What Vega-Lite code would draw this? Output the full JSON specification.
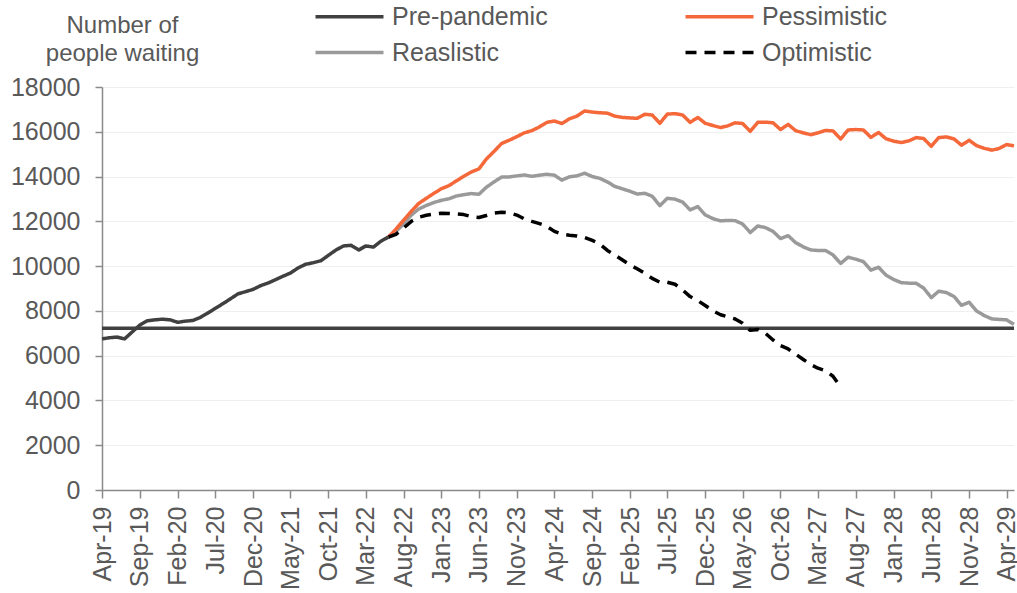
{
  "$schema": "https://vega.github.io/schema/vega-lite/v6.json",
  "width": 912,
  "height": 403,
  "autosize": {"type": "none"},
  "padding": {"left": 102, "top": 87, "right": 3, "bottom": 103},
  "background": "white",
  "config": {
    "font": "Liberation Sans",
    "view": {"stroke": null},
    "axis": {"labelFont": "Liberation Sans", "titleFont": "Liberation Sans"},
    "legend": {"labelFont": "Liberation Sans"}
  },
  "data": {"values": [
    {"m": "2019-04-01", "Historical": 6750, "Pre-pandemic": 7230},
    {"m": "2019-05-01", "Historical": 6800},
    {"m": "2019-06-01", "Historical": 6830},
    {"m": "2019-07-01", "Historical": 6750},
    {"m": "2019-08-01", "Historical": 7060},
    {"m": "2019-09-01", "Historical": 7370},
    {"m": "2019-10-01", "Historical": 7560},
    {"m": "2019-11-01", "Historical": 7600},
    {"m": "2019-12-01", "Historical": 7630},
    {"m": "2020-01-01", "Historical": 7600},
    {"m": "2020-02-01", "Historical": 7490},
    {"m": "2020-03-01", "Historical": 7540},
    {"m": "2020-04-01", "Historical": 7570},
    {"m": "2020-05-01", "Historical": 7700},
    {"m": "2020-06-01", "Historical": 7900},
    {"m": "2020-07-01", "Historical": 8110},
    {"m": "2020-08-01", "Historical": 8320},
    {"m": "2020-09-01", "Historical": 8540},
    {"m": "2020-10-01", "Historical": 8760},
    {"m": "2020-11-01", "Historical": 8860},
    {"m": "2020-12-01", "Historical": 8960},
    {"m": "2021-01-01", "Historical": 9130},
    {"m": "2021-02-01", "Historical": 9250},
    {"m": "2021-03-01", "Historical": 9390},
    {"m": "2021-04-01", "Historical": 9550},
    {"m": "2021-05-01", "Historical": 9690},
    {"m": "2021-06-01", "Historical": 9920},
    {"m": "2021-07-01", "Historical": 10080},
    {"m": "2021-08-01", "Historical": 10150},
    {"m": "2021-09-01", "Historical": 10240},
    {"m": "2021-10-01", "Historical": 10480},
    {"m": "2021-11-01", "Historical": 10720},
    {"m": "2021-12-01", "Historical": 10900},
    {"m": "2022-01-01", "Historical": 10930},
    {"m": "2022-02-01", "Historical": 10720},
    {"m": "2022-03-01", "Historical": 10900},
    {"m": "2022-04-01", "Historical": 10850},
    {"m": "2022-05-01", "Historical": 11110},
    {"m": "2022-06-01", "Historical": 11300, "Pessimistic": 11300, "Reaslistic": 11300, "Optimistic": 11300},
    {"m": "2022-07-01", "Pessimistic": 11650, "Reaslistic": 11550, "Optimistic": 11420},
    {"m": "2022-08-01", "Pessimistic": 12050, "Reaslistic": 11880, "Optimistic": 11700},
    {"m": "2022-09-01", "Pessimistic": 12450, "Reaslistic": 12280, "Optimistic": 12000},
    {"m": "2022-10-01", "Pessimistic": 12800, "Reaslistic": 12550, "Optimistic": 12180},
    {"m": "2022-11-01", "Pessimistic": 13030, "Reaslistic": 12710, "Optimistic": 12270},
    {"m": "2022-12-01", "Pessimistic": 13250, "Reaslistic": 12840, "Optimistic": 12320},
    {"m": "2023-01-01", "Pessimistic": 13460, "Reaslistic": 12940, "Optimistic": 12360},
    {"m": "2023-02-01", "Pessimistic": 13600, "Reaslistic": 13010, "Optimistic": 12350},
    {"m": "2023-03-01", "Pessimistic": 13800, "Reaslistic": 13130, "Optimistic": 12330},
    {"m": "2023-04-01", "Pessimistic": 14010, "Reaslistic": 13190, "Optimistic": 12300},
    {"m": "2023-05-01", "Pessimistic": 14200, "Reaslistic": 13240, "Optimistic": 12210},
    {"m": "2023-06-01", "Pessimistic": 14340, "Reaslistic": 13210, "Optimistic": 12170},
    {"m": "2023-07-01", "Pessimistic": 14780, "Reaslistic": 13520, "Optimistic": 12260},
    {"m": "2023-08-01", "Pessimistic": 15120, "Reaslistic": 13760, "Optimistic": 12370},
    {"m": "2023-09-01", "Pessimistic": 15480, "Reaslistic": 13980, "Optimistic": 12410},
    {"m": "2023-10-01", "Pessimistic": 15620, "Reaslistic": 13985, "Optimistic": 12380},
    {"m": "2023-11-01", "Pessimistic": 15780, "Reaslistic": 14030, "Optimistic": 12280},
    {"m": "2023-12-01", "Pessimistic": 15950, "Reaslistic": 14070, "Optimistic": 12110},
    {"m": "2024-01-01", "Pessimistic": 16050, "Reaslistic": 14010, "Optimistic": 12000},
    {"m": "2024-02-01", "Pessimistic": 16220, "Reaslistic": 14060, "Optimistic": 11900},
    {"m": "2024-03-01", "Pessimistic": 16420, "Reaslistic": 14100, "Optimistic": 11780},
    {"m": "2024-04-01", "Pessimistic": 16480, "Reaslistic": 14060, "Optimistic": 11550},
    {"m": "2024-05-01", "Pessimistic": 16370, "Reaslistic": 13840, "Optimistic": 11430},
    {"m": "2024-06-01", "Pessimistic": 16580, "Reaslistic": 13990, "Optimistic": 11380},
    {"m": "2024-07-01", "Pessimistic": 16700, "Reaslistic": 14030, "Optimistic": 11350},
    {"m": "2024-08-01", "Pessimistic": 16930, "Reaslistic": 14150, "Optimistic": 11280},
    {"m": "2024-09-01", "Pessimistic": 16880, "Reaslistic": 14000, "Optimistic": 11150},
    {"m": "2024-10-01", "Pessimistic": 16850, "Reaslistic": 13920, "Optimistic": 10990},
    {"m": "2024-11-01", "Pessimistic": 16830, "Reaslistic": 13760, "Optimistic": 10700},
    {"m": "2024-12-01", "Pessimistic": 16700, "Reaslistic": 13560, "Optimistic": 10500},
    {"m": "2025-01-01", "Pessimistic": 16640, "Reaslistic": 13450, "Optimistic": 10270},
    {"m": "2025-02-01", "Pessimistic": 16620, "Reaslistic": 13340, "Optimistic": 10050},
    {"m": "2025-03-01", "Pessimistic": 16600, "Reaslistic": 13220, "Optimistic": 9880},
    {"m": "2025-04-01", "Pessimistic": 16780, "Reaslistic": 13250, "Optimistic": 9680},
    {"m": "2025-05-01", "Pessimistic": 16750, "Reaslistic": 13120, "Optimistic": 9450},
    {"m": "2025-06-01", "Pessimistic": 16380, "Reaslistic": 12700, "Optimistic": 9280},
    {"m": "2025-07-01", "Pessimistic": 16790, "Reaslistic": 13030, "Optimistic": 9280},
    {"m": "2025-08-01", "Pessimistic": 16810, "Reaslistic": 12990, "Optimistic": 9190},
    {"m": "2025-09-01", "Pessimistic": 16750, "Reaslistic": 12860, "Optimistic": 8930},
    {"m": "2025-10-01", "Pessimistic": 16420, "Reaslistic": 12510, "Optimistic": 8640},
    {"m": "2025-11-01", "Pessimistic": 16640, "Reaslistic": 12660, "Optimistic": 8460},
    {"m": "2025-12-01", "Pessimistic": 16380, "Reaslistic": 12290, "Optimistic": 8240},
    {"m": "2026-01-01", "Pessimistic": 16280, "Reaslistic": 12120, "Optimistic": 8000},
    {"m": "2026-02-01", "Pessimistic": 16190, "Reaslistic": 12020, "Optimistic": 7830},
    {"m": "2026-03-01", "Pessimistic": 16260, "Reaslistic": 12040, "Optimistic": 7740},
    {"m": "2026-04-01", "Pessimistic": 16400, "Reaslistic": 12030, "Optimistic": 7640},
    {"m": "2026-05-01", "Pessimistic": 16370, "Reaslistic": 11880, "Optimistic": 7450},
    {"m": "2026-06-01", "Pessimistic": 16020, "Reaslistic": 11500, "Optimistic": 7130},
    {"m": "2026-07-01", "Pessimistic": 16420, "Reaslistic": 11790, "Optimistic": 7170},
    {"m": "2026-08-01", "Pessimistic": 16430, "Reaslistic": 11720, "Optimistic": 7000},
    {"m": "2026-09-01", "Pessimistic": 16400, "Reaslistic": 11550, "Optimistic": 6700},
    {"m": "2026-10-01", "Pessimistic": 16100, "Reaslistic": 11230, "Optimistic": 6450},
    {"m": "2026-11-01", "Pessimistic": 16330, "Reaslistic": 11360, "Optimistic": 6300},
    {"m": "2026-12-01", "Pessimistic": 16050, "Reaslistic": 11050, "Optimistic": 6070},
    {"m": "2027-01-01", "Pessimistic": 15950, "Reaslistic": 10860, "Optimistic": 5830},
    {"m": "2027-02-01", "Pessimistic": 15870, "Reaslistic": 10720, "Optimistic": 5600},
    {"m": "2027-03-01", "Pessimistic": 15950, "Reaslistic": 10700, "Optimistic": 5440},
    {"m": "2027-04-01", "Pessimistic": 16060, "Reaslistic": 10700, "Optimistic": 5330},
    {"m": "2027-05-01", "Pessimistic": 16040, "Reaslistic": 10500, "Optimistic": 5080},
    {"m": "2027-06-01", "Pessimistic": 15680, "Reaslistic": 10120, "Optimistic": 4600},
    {"m": "2027-07-01", "Pessimistic": 16080, "Reaslistic": 10400},
    {"m": "2027-08-01", "Pessimistic": 16100, "Reaslistic": 10310},
    {"m": "2027-09-01", "Pessimistic": 16080, "Reaslistic": 10200},
    {"m": "2027-10-01", "Pessimistic": 15750, "Reaslistic": 9820},
    {"m": "2027-11-01", "Pessimistic": 15970, "Reaslistic": 9950},
    {"m": "2027-12-01", "Pessimistic": 15690, "Reaslistic": 9600},
    {"m": "2028-01-01", "Pessimistic": 15580, "Reaslistic": 9400},
    {"m": "2028-02-01", "Pessimistic": 15520, "Reaslistic": 9260},
    {"m": "2028-03-01", "Pessimistic": 15590, "Reaslistic": 9240},
    {"m": "2028-04-01", "Pessimistic": 15740, "Reaslistic": 9230},
    {"m": "2028-05-01", "Pessimistic": 15700, "Reaslistic": 9020},
    {"m": "2028-06-01", "Pessimistic": 15350, "Reaslistic": 8590},
    {"m": "2028-07-01", "Pessimistic": 15740, "Reaslistic": 8880},
    {"m": "2028-08-01", "Pessimistic": 15770, "Reaslistic": 8820},
    {"m": "2028-09-01", "Pessimistic": 15680, "Reaslistic": 8640},
    {"m": "2028-10-01", "Pessimistic": 15400, "Reaslistic": 8250},
    {"m": "2028-11-01", "Pessimistic": 15620, "Reaslistic": 8390},
    {"m": "2028-12-01", "Pessimistic": 15380, "Reaslistic": 7990},
    {"m": "2029-01-01", "Pessimistic": 15260, "Reaslistic": 7790},
    {"m": "2029-02-01", "Pessimistic": 15180, "Reaslistic": 7640},
    {"m": "2029-03-01", "Pessimistic": 15250, "Reaslistic": 7620},
    {"m": "2029-04-01", "Pessimistic": 15430, "Reaslistic": 7600},
    {"m": "2029-05-01", "Pessimistic": 15370, "Reaslistic": 7400, "Pre-pandemic": 7230}
  ]},
  "transform": [
    {"fold": ["Reaslistic", "Pessimistic", "Optimistic", "Pre-pandemic", "Historical"], "as": ["series", "value"]},
    {"filter": "isValid(datum.value)"}
  ],
  "mark": {"type": "line", "strokeJoin": "round"},
  "encoding": {
    "x": {
      "field": "m", "type": "temporal", "timeUnit": "utcyearmonth", "title": null,
      "scale": {"domain": [{"year": 2019, "month": 4, "date": 1, "utc": true}, {"year": 2029, "month": 5, "date": 1, "utc": true}]},
      "axis": {
        "values": [
          {"year": 2019, "month": 4, "utc": true}, {"year": 2019, "month": 9, "utc": true},
          {"year": 2020, "month": 2, "utc": true}, {"year": 2020, "month": 7, "utc": true},
          {"year": 2020, "month": 12, "utc": true}, {"year": 2021, "month": 5, "utc": true},
          {"year": 2021, "month": 10, "utc": true}, {"year": 2022, "month": 3, "utc": true},
          {"year": 2022, "month": 8, "utc": true}, {"year": 2023, "month": 1, "utc": true},
          {"year": 2023, "month": 6, "utc": true}, {"year": 2023, "month": 11, "utc": true},
          {"year": 2024, "month": 4, "utc": true}, {"year": 2024, "month": 9, "utc": true},
          {"year": 2025, "month": 2, "utc": true}, {"year": 2025, "month": 7, "utc": true},
          {"year": 2025, "month": 12, "utc": true}, {"year": 2026, "month": 5, "utc": true},
          {"year": 2026, "month": 10, "utc": true}, {"year": 2027, "month": 3, "utc": true},
          {"year": 2027, "month": 8, "utc": true}, {"year": 2028, "month": 1, "utc": true},
          {"year": 2028, "month": 6, "utc": true}, {"year": 2028, "month": 11, "utc": true},
          {"year": 2029, "month": 4, "utc": true}
        ],
        "format": "%b-%y",
        "labelAngle": -90,
        "labelFontSize": 25,
        "labelColor": "#595959",
        "labelPadding": 8,
        "labelOverlap": false,
        "labelFlush": false,
        "tickSize": 8,
        "tickWidth": 1.5,
        "tickColor": "#8A8A8A",
        "domainColor": "#8A8A8A",
        "domainWidth": 1.5,
        "grid": false
      }
    },
    "y": {
      "field": "value", "type": "quantitative",
      "scale": {"domain": [0, 18000], "nice": false},
      "axis": {
        "values": [0, 2000, 4000, 6000, 8000, 10000, 12000, 14000, 16000, 18000],
        "format": "d",
        "title": ["Number of", "people waiting"],
        "titleAngle": 0,
        "titleAlign": "center",
        "titleBaseline": "alphabetic",
        "titleX": 20,
        "titleY": -55,
        "titleLineHeight": 28,
        "titleFontSize": 24,
        "titleFontWeight": "normal",
        "titleColor": "#595959",
        "labelFontSize": 25,
        "labelColor": "#595959",
        "labelPadding": 15,
        "tickSize": 7,
        "tickWidth": 1.5,
        "tickColor": "#8A8A8A",
        "domainColor": "#8A8A8A",
        "domainWidth": 1.5,
        "gridColor": "#EFEFEF",
        "gridWidth": 1.2
      }
    },
    "color": {
      "field": "series", "type": "nominal",
      "scale": {
        "domain": ["Pre-pandemic", "Reaslistic", "Pessimistic", "Optimistic", "Historical"],
        "range": ["#404040", "#9A9A9A", "#F4683A", "#000000", "#404040"]
      },
      "legend": {
        "values": ["Pre-pandemic", "Reaslistic", "Pessimistic", "Optimistic"],
        "title": null,
        "orient": "none",
        "legendX": 235,
        "legendY": -83,
        "direction": "vertical",
        "columns": 2,
        "columnPadding": 130,
        "rowPadding": 10,
        "symbolType": "M-4,0H4",
        "symbolSize": 289,
        "symbolStrokeWidth": 3.5,
        "labelFontSize": 25,
        "labelColor": "#595959",
        "labelOffset": 30,
        "labelLimit": 400
      }
    },
    "strokeDash": {
      "field": "series", "type": "nominal",
      "scale": {
        "domain": ["Pre-pandemic", "Reaslistic", "Pessimistic", "Optimistic", "Historical"],
        "range": [[1, 0], [1, 0], [1, 0], [11, 8], [1, 0]]
      },
      "legend": {
        "values": ["Pre-pandemic", "Reaslistic", "Pessimistic", "Optimistic"],
        "title": null,
        "orient": "none",
        "legendX": 235,
        "legendY": -83,
        "direction": "vertical",
        "columns": 2,
        "columnPadding": 130,
        "rowPadding": 10,
        "symbolType": "M-4,0H4",
        "symbolSize": 289,
        "symbolStrokeWidth": 3.5,
        "labelFontSize": 25,
        "labelColor": "#595959",
        "labelOffset": 30,
        "labelLimit": 400
      }
    },
    "strokeWidth": {
      "field": "series", "type": "nominal",
      "scale": {
        "domain": ["Pre-pandemic", "Reaslistic", "Pessimistic", "Optimistic", "Historical"],
        "range": [3.5, 3.5, 3.5, 3.2, 6.5]
      },
      "legend": null
    }
  }
}
